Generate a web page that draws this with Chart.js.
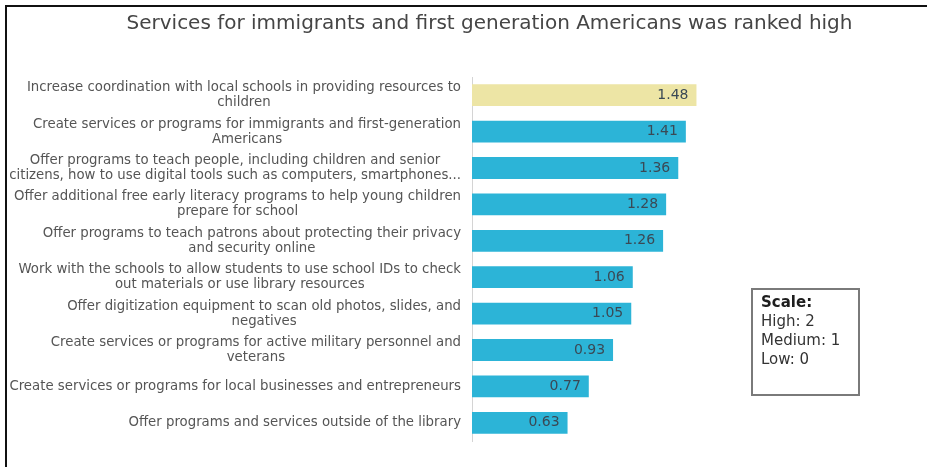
<!DOCTYPE html>
<html>
<head>
<meta charset="utf-8">
<script src="https://cdn.jsdelivr.net/npm/chart.js@4"></script>
<style>
  html, body { margin: 0; padding: 0; background: #fff; }
  #wrap { position: relative; width: 927px; height: 467px; overflow: hidden; }
  #frame { position: absolute; left: 5px; top: 5px; right: -4px; bottom: -4px;
           border-left: 2px solid #111; border-top: 2px solid #111; }
  #chart { position: absolute; left: 0; top: 0; }
  #scale { position: absolute; left: 751px; top: 288px; width: 97px; height: 101px;
           border: 2px solid #7a7a7a; padding: 3px 0 0 8px; box-sizing: content-box;
           font-family: "DejaVu Sans", sans-serif; font-size: 15px; line-height: 19px; color: #333; }
  #scale b { color: #1e1e1e; }
</style>
</head>
<body>
<div id="wrap">
  <div id="frame"></div>
  <canvas id="chart" width="927" height="467"></canvas>
  <div id="scale"><b>Scale:</b><br>High: 2<br>Medium: 1<br>Low: 0</div>
</div>
<script>
const title = 'Services for immigrants and first generation Americans was ranked high';

const categories = [
  ['Increase coordination with local schools in providing resources to', 'children'],
  ['Create services or programs for immigrants and first-generation', 'Americans'],
  ['Offer programs to teach people, including children and senior', 'citizens, how to use digital tools such as computers, smartphones...'],
  ['Offer additional free early literacy programs to help young children', 'prepare for school'],
  ['Offer programs to teach patrons about protecting their privacy', 'and security online'],
  ['Work with the schools to allow students to use school IDs to check', 'out materials or use library resources'],
  ['Offer digitization equipment to scan old photos, slides, and', 'negatives'],
  ['Create services or programs for active military personnel and', 'veterans'],
  ['Create services or programs for local businesses and entrepreneurs'],
  ['Offer programs and services outside of the library'],
];

const scores = [1.48, 1.41, 1.36, 1.28, 1.26, 1.06, 1.05, 0.93, 0.77, 0.63];

const highlight = '#ede5a5';
const barBlue = '#2cb4d7';

// category labels: block right-aligned to the axis, lines centred inside block
const catLabels = {
  id: 'catLabels',
  afterDraw(chart) {
    const ctx = chart.ctx;
    const y = chart.scales.y;
    const right = chart.chartArea.left - 11;
    ctx.save();
    ctx.font = '13.3px "DejaVu Sans", sans-serif';
    ctx.fillStyle = '#555';
    ctx.textBaseline = 'middle';
    ctx.textAlign = 'center';
    const lh = 15;
    categories.forEach((lines, i) => {
      const w = Math.max(...lines.map((l) => ctx.measureText(l).width));
      const cx = right - w / 2;
      const cy = y.getPixelForTick(i);
      const y0 = cy - ((lines.length - 1) * lh) / 2;
      lines.forEach((l, j) => ctx.fillText(l, cx, y0 + j * lh));
    });
    ctx.restore();
  },
};

const valueLabels = {
  id: 'valueLabels',
  afterDatasetsDraw(chart) {
    const ctx = chart.ctx;
    ctx.save();
    ctx.font = '14px "DejaVu Sans", sans-serif';
    ctx.fillStyle = '#3a4955';
    ctx.textAlign = 'right';
    ctx.textBaseline = 'middle';
    chart.getDatasetMeta(0).data.forEach((bar, i) => {
      ctx.fillText(scores[i].toFixed(2), bar.x - 8, bar.y);
    });
    ctx.restore();
  },
};

new Chart(document.getElementById('chart').getContext('2d'), {
  type: 'bar',
  data: {
    labels: categories,
    datasets: [
      {
        data: scores,
        backgroundColor: scores.map((v, i) => (i === 0 ? highlight : barBlue)),
        borderWidth: 0,
        barPercentage: 0.6,
        categoryPercentage: 1,
      },
    ],
  },
  options: {
    indexAxis: 'y',
    responsive: false,
    animation: false,
    layout: { padding: { left: 52, right: 0, top: 0, bottom: 26 } },
    plugins: {
      legend: { display: false },
      tooltip: { enabled: false },
      title: {
        display: true,
        text: title,
        color: '#454545',
        font: { family: '"DejaVu Sans", sans-serif', size: 20, weight: 'normal' },
        padding: { top: 12, bottom: 41 },
      },
    },
    scales: {
      x: { display: false, min: 0, max: 3 },
      y: {
        afterFit: (scale) => { scale.width = 420; },
        ticks: { display: false },
        grid: { display: false },
        border: { display: true, color: '#d4d4d4', width: 1 },
      },
    },
  },
  plugins: [catLabels, valueLabels],
});
</script>
</body>
</html>
